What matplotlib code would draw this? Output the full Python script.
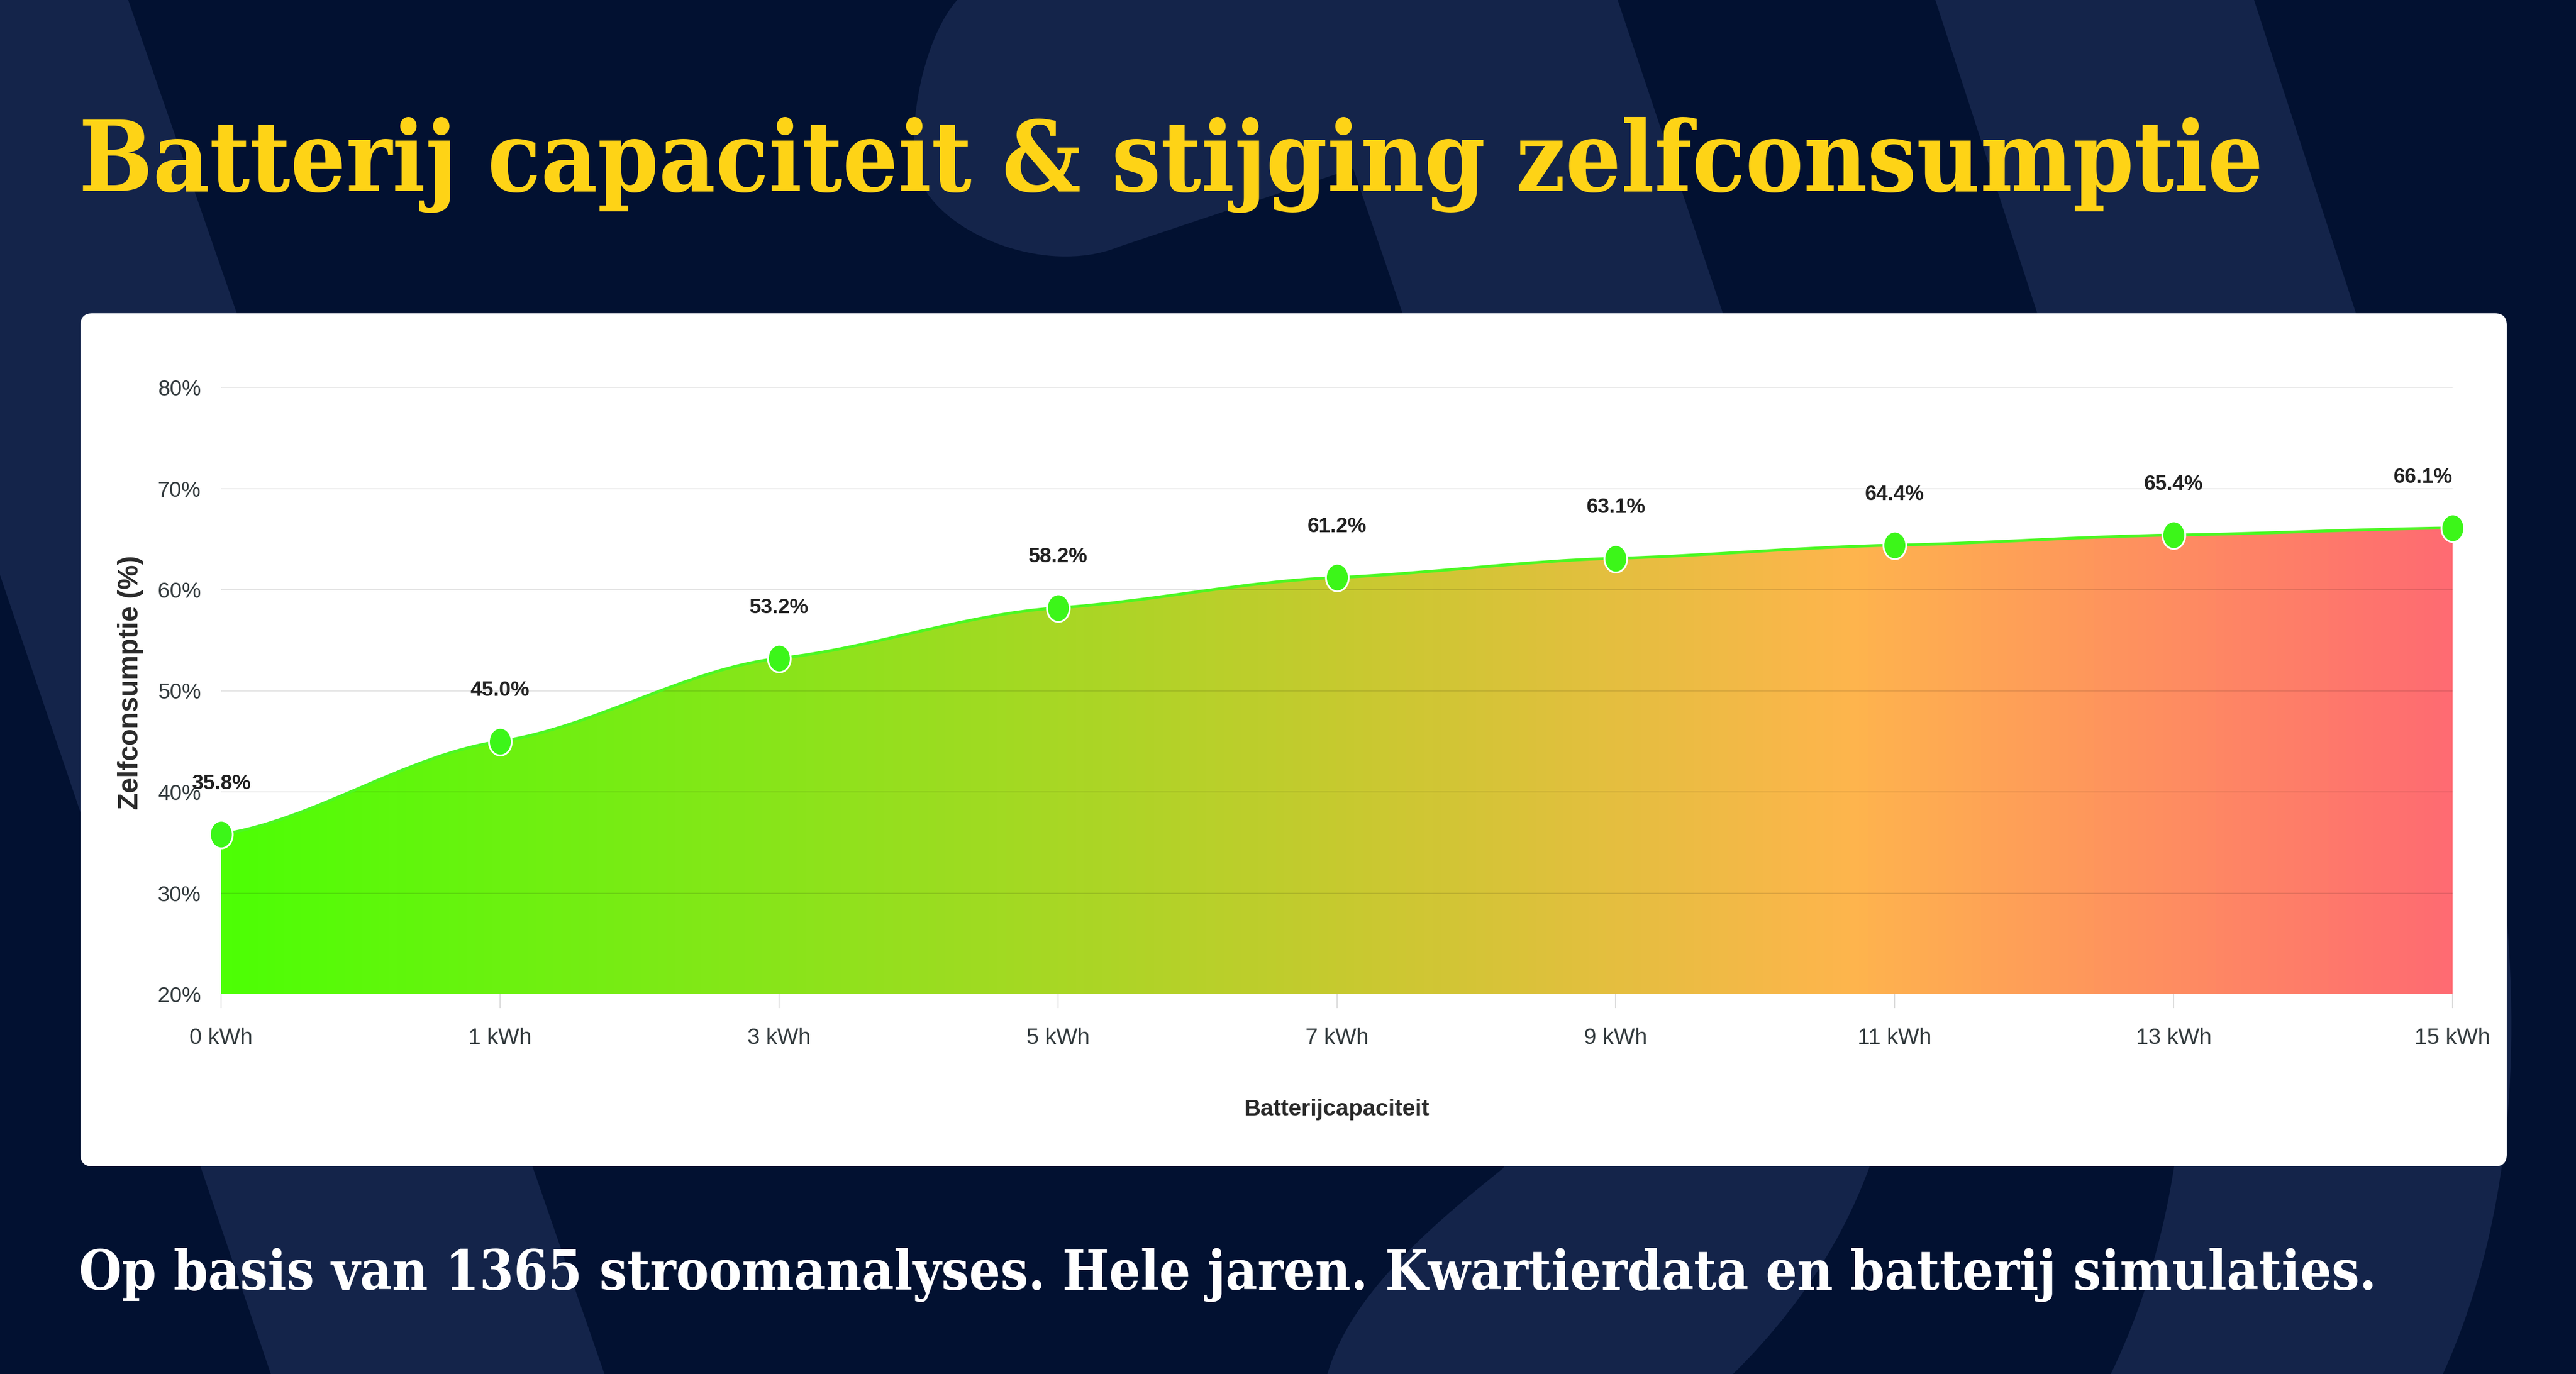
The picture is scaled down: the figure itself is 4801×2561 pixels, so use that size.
import numpy as np
import matplotlib
matplotlib.use("Agg")
import matplotlib.pyplot as plt
from matplotlib.path import Path
from matplotlib.patches import PathPatch, FancyBboxPatch
from matplotlib.colors import LinearSegmentedColormap
from matplotlib.transforms import Affine2D

# ===== data =====
categories = ["0 kWh", "1 kWh", "3 kWh", "5 kWh", "7 kWh", "9 kWh", "11 kWh", "13 kWh", "15 kWh"]
zelfconsumptie = [35.8, 45.0, 53.2, 58.2, 61.2, 63.1, 64.4, 65.4, 66.1]
y_ticks = [20, 30, 40, 50, 60, 70, 80]
y_tick_labels = ["20%", "30%", "40%", "50%", "60%", "70%", "80%"]
point_labels = ["35.8%", "45.0%", "53.2%", "58.2%", "61.2%", "63.1%", "64.4%", "65.4%", "66.1%"]

title_txt = "Batterij capaciteit & stijging zelfconsumptie"
sub_txt = "Op basis van 1365 stroomanalyses. Hele jaren. Kwartierdata en batterij simulaties."

# ===== style =====
W, H, DPI = 4801, 2561, 100
BG = "#021131"
BAND = "#14244a"
YEL = "#fed316"
TXT = "#333b3e"
LINE = "#4cf723"
MARK = "#3cf619"
plt.rcParams["font.family"] = ["Liberation Sans", "DejaVu Sans"]

fig = plt.figure(figsize=(W / DPI, H / DPI), dpi=DPI)
fig.patch.set_facecolor(BG)

# background canvas in pixel units (y down)
bg = fig.add_axes([0, 0, 1, 1])
bg.set_xlim(0, W)
bg.set_ylim(H, 0)
bg.axis("off")

M, L, C, Z = Path.MOVETO, Path.LINETO, Path.CURVE4, Path.CLOSEPOLY

# left diagonal band
left_band = Path([(-370, -20), (232, -20), (1140, 2600), (518, 2600), (0, 0)],
                 [M, L, L, L, Z])
# rounded blob + middle band
mid_band = Path([
    (1790, -20), (1784, 0),
    (1730, 60), (1695, 200), (1705, 300),
    (1715, 400), (1860, 478), (1985, 478),
    (2030, 478), (2060, 470), (2088, 459),
    (2522, 314), (2614, 584),
    (2760, 1100), (2950, 1800), (2802, 2177),
    (2700, 2260), (2520, 2400), (2474, 2561),
    (2465, 2600), (3225, 2600), (3230, 2561),
    (3850, 1950), (3400, 1150), (3211, 584),
    (3015, 0), (3009, -20), (0, 0)],
    [M, L, C, C, C, C, C, C, C, C, C, L, L, C, C, C, C, C, C,
     L, L, L, C, C, C, L, L, Z])
# right curved band
right_band = Path([
    (3601, -20), (3607, 0), (3797, 584),
    (3990, 1150), (4230, 1950), (3934, 2561),
    (3920, 2600), (4545, 2600), (4553, 2561),
    (4830, 1950), (4600, 1150), (4391, 584),
    (4201, 0), (4195, -20), (0, 0)],
    [M, L, L, C, C, C, L, L, L, C, C, C, L, L, Z])
for p in (left_band, mid_band, right_band):
    bg.add_patch(PathPatch(p, facecolor=BAND, edgecolor="none", zorder=1))

# white card
card = FancyBboxPatch((150, 584), 4522, 1590, boxstyle="round,pad=0,rounding_size=22",
                      facecolor="white", edgecolor="none", zorder=2)
bg.add_patch(card)

# ===== chart area =====
px0, px1, py_top, py_bot = 412, 4571, 722, 1853
ax = fig.add_axes([px0 / W, 1 - py_bot / H, (px1 - px0) / W, (py_bot - py_top) / H])
ax.set_xlim(0, len(categories) - 1)
ax.set_ylim(20, 80)
ax.patch.set_alpha(0)
for s in ax.spines.values():
    s.set_visible(False)

xs = np.arange(len(categories))


def smooth_verts(x, y, flat=0.45):
    # cubic Hermite segments with softened tangents -> bezier control points
    x = np.asarray(x, float)
    y = np.asarray(y, float)
    n = len(x)
    m = np.zeros(n)
    for i in range(n):
        a, b = max(i - 1, 0), min(i + 1, n - 1)
        m[i] = flat * (y[b] - y[a]) / (x[b] - x[a])
    verts = [(x[0], y[0])]
    codes = [Path.MOVETO]
    for i in range(n - 1):
        h = x[i + 1] - x[i]
        verts += [(x[i] + h / 3, y[i] + m[i] * h / 3),
                  (x[i + 1] - h / 3, y[i + 1] - m[i + 1] * h / 3),
                  (x[i + 1], y[i + 1])]
        codes += [Path.CURVE4] * 3
    return verts, codes


verts, codes = smooth_verts(xs, zelfconsumptie)
line_path = Path(verts, codes)
fill_path = Path(verts + [(xs[-1], 20), (xs[0], 20), (0, 0)],
                 codes + [Path.LINETO, Path.LINETO, Path.CLOSEPOLY])

clip = PathPatch(fill_path, facecolor="none", edgecolor="none", transform=ax.transData)
ax.add_patch(clip)
cmap = LinearSegmentedColormap.from_list(
    "zc", [(0, "#4dff05"), (0.5, "#c6ca2f"), (0.73, "#feb54d"), (1, "#ff6b72")])
grad = np.linspace(0, 1, 600)[None, :]
im = ax.imshow(grad, cmap=cmap, extent=[0, xs[-1], 20, 80], aspect="auto",
               origin="lower", interpolation="bilinear", zorder=1)
im.set_clip_path(clip)

# grid
for v in y_ticks[1:]:
    ax.axhline(v, color="black", alpha=0.1, lw=1.5, zorder=2)

ax.add_patch(PathPatch(line_path, facecolor="none", edgecolor=LINE, lw=3.8, zorder=4))

ell = Path.unit_circle().transformed(Affine2D().scale(43 / 52, 1.0))
ax.plot(xs, zelfconsumptie, ls="none", marker=ell, ms=37, mfc=MARK, mec="white",
        mew=2.4, zorder=5, clip_on=False)

for i, (v, lbl) in enumerate(zip(zelfconsumptie, point_labels)):
    ha = "right" if i == len(xs) - 1 else "center"
    ax.annotate(lbl, (xs[i], v), xytext=(0, 68), textcoords="offset points",
                ha=ha, va="center", fontsize=28, fontweight="bold", color="#222222",
                zorder=6, annotation_clip=False)

ax.set_yticks(y_ticks)
ax.set_yticklabels(y_tick_labels)
ax.tick_params(axis="y", length=0, pad=27, labelsize=29, labelcolor=TXT)
ax.set_xticks(xs)
ax.set_xticklabels(categories)
ax.tick_params(axis="x", length=18.7, width=1.5, color="#dcdcdc", pad=26,
               labelsize=30, labelcolor=TXT)

fig.text(244 / W, 1 - 1272 / H, "Zelfconsumptie (%)", rotation=90, ha="center",
         va="center", fontsize=37, fontweight="bold", color="#2a2a2a")
fig.text(2491 / W, 1 - 2068 / H, "Batterijcapaciteit", ha="center", va="center",
         fontsize=31, fontweight="bold", color="#2a2a2a")

# ===== title / subtitle =====
title = fig.text(147 / W, 1 - 356 / H, title_txt, fontsize=130, fontweight="bold",
                 family="DejaVu Serif", fontstretch="condensed", color=YEL,
                 ha="left", va="baseline")
sub = fig.text(147 / W, 1 - 2404 / H, sub_txt, fontsize=70, fontweight="bold",
               family="DejaVu Serif", fontstretch="condensed", color="white",
               ha="left", va="baseline")

renderer = fig.canvas.get_renderer()
for t, target in ((title, 4069), (sub, 4284)):
    bb = t.get_window_extent(renderer)
    t.set_fontsize(t.get_fontsize() * target / bb.width)

fig.savefig("out.png", dpi=DPI, facecolor=BG)
